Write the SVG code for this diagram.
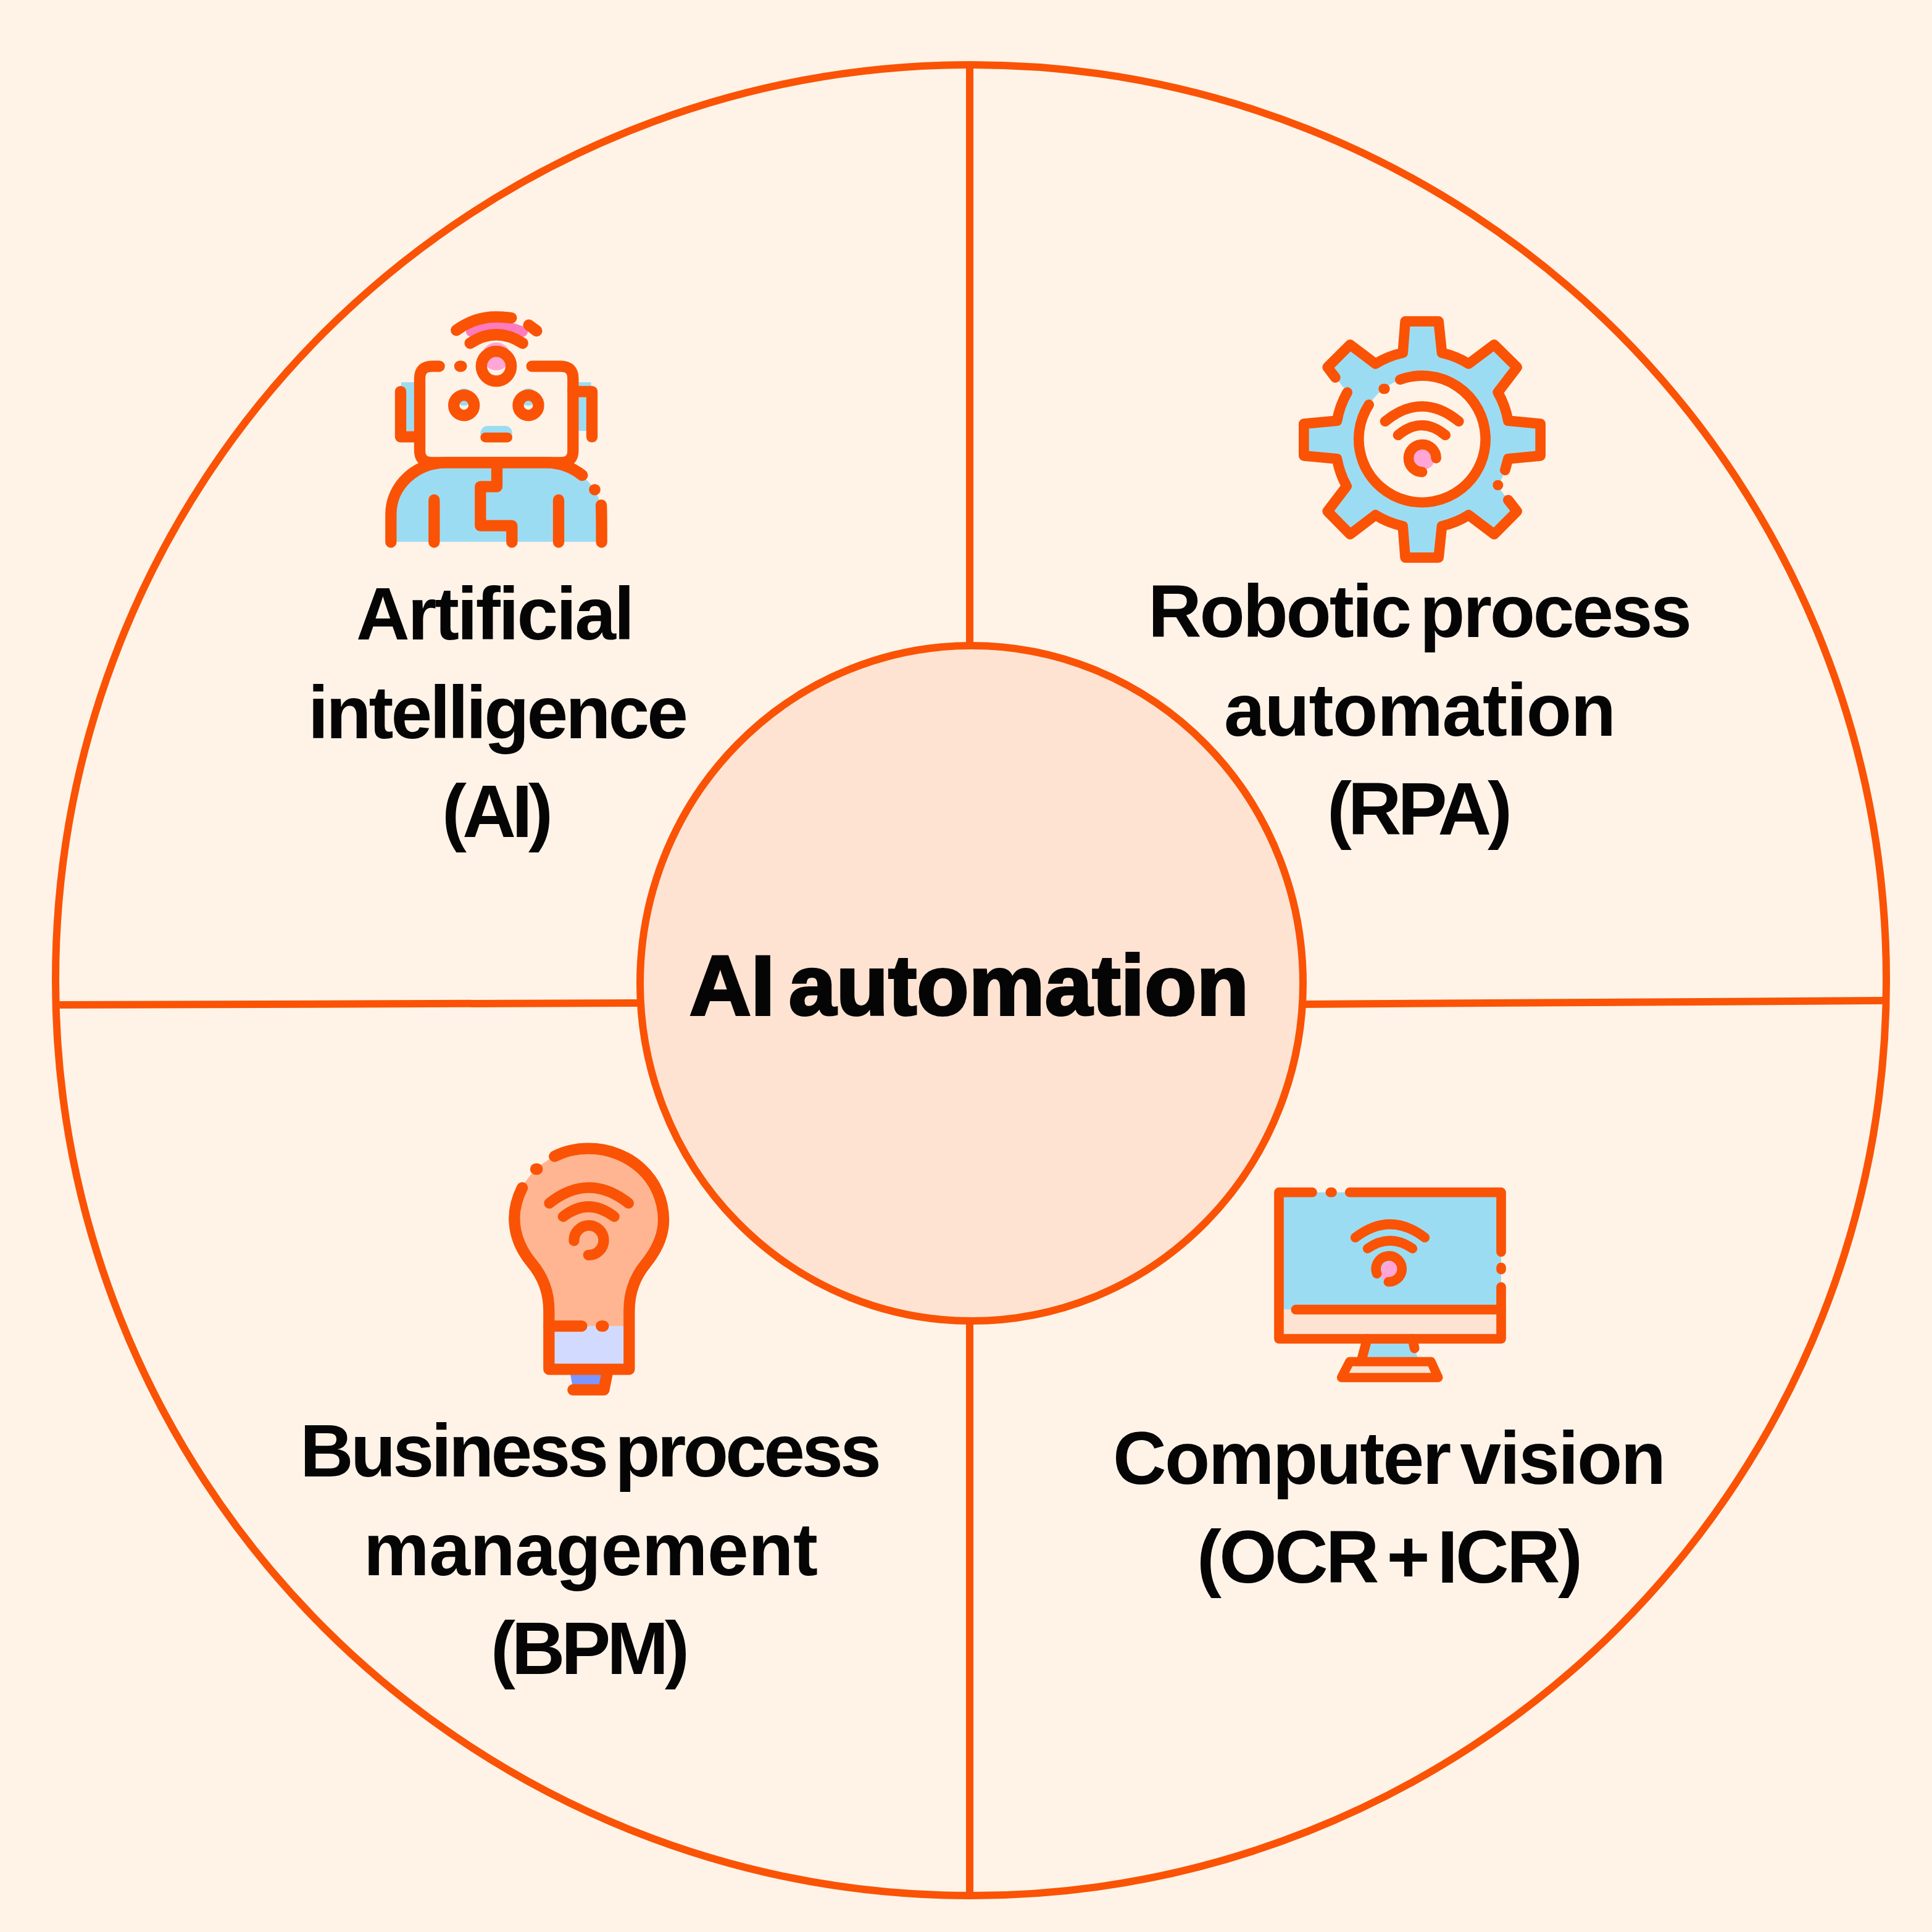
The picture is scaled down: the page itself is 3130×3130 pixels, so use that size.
<svg xmlns="http://www.w3.org/2000/svg" width="3130" height="3130" viewBox="0 0 3130 3130">
<style>
.ln{fill:none;stroke:#FA5305;stroke-width:12}
.s{fill:none;stroke:#FA5305;stroke-linecap:round;stroke-linejoin:round}
.t{font-family:"Liberation Sans",Arial,sans-serif;font-weight:700;font-size:120px;word-spacing:-14px;fill:#050505}
.c{font-size:138px;word-spacing:-16px;stroke:#050505;stroke-width:4px}
</style>
<rect width="3130" height="3130" fill="#FFF3E8"/>
<g id="connectors">
<line class="ln" x1="1571" y1="106" x2="1571" y2="1050"/>
<line class="ln" x1="1571" y1="2136" x2="1571" y2="3072"/>
<line class="ln" x1="90" y1="1628" x2="1040" y2="1625"/>
<line class="ln" x1="2108" y1="1627" x2="3056" y2="1621"/>
</g>
<g id="ring"><circle class="ln" cx="1573" cy="1588" r="1483"/></g>
<g id="center">
<ellipse cx="1574" cy="1593" rx="537" ry="547" fill="#FFE3D2" stroke="#FA5305" stroke-width="12"/>
<text class="t c" x="1117" y="1644" textLength="906">AI automation</text>
</g>
<g id="node-ai">
<g transform="translate(600 480) scale(.33333)">
<path fill="#9CDCF3" d="M150 418H215V655H150ZM1010 418H1073V655H1010ZM100 1193V1060C100 920 220 808 370 808H850C990 808 1124 920 1124 1060V1193Z"/>
<rect x="535" y="630" width="155" height="70" rx="35" fill="#9CDCF3"/>
<circle cx="455" cy="490" r="42" fill="#9CDCF3"/><circle cx="768" cy="490" r="42" fill="#9CDCF3"/>
<circle cx="612" cy="292" r="68" fill="#FFA6D7"/>
<path class="s" stroke-width="50" d="M490 172Q612 120 740 172" style="stroke:#FF7BBE"/>
<g class="s" stroke-width="55">
<path d="M335 340H300Q240 340 240 400V750Q240 808 300 808H925Q985 808 985 750V400Q985 340 925 340H785"/>
<path d="M435 340H442"/>
<path d="M147 463V683H240M985 463H1077V683"/>
<path d="M100 1195V1060C100 920 220 808 370 808H850C920 808 980 830 1030 870M1090 940H1091M1122 1015C1124 1040 1124 1060 1124 1195"/>
<path d="M310 990V1195M915 990V1195"/>
<path d="M615 808V925H535V1115H688V1195"/>
<path d="M418 165C480 120 550 100 610 100C640 100 665 103 685 105M485 228Q612 145 740 228M770 140L808 168"/>
<path d="M559 686H666" stroke-width="48"/>
<circle cx="612" cy="340" r="72.5"/>
<circle cx="455" cy="530" r="49.5"/><circle cx="768" cy="530" r="49.5"/>
</g>
</g>
<text class="t" x="577" y="1036" textLength="451">Artificial</text>
<text class="t" x="499" y="1196" textLength="616">intelligence</text>
<text class="t" x="716" y="1356" textLength="180">(AI)</text>
</g>
<g id="node-rpa">
<g transform="translate(2080 490) scale(.33333)">
<path fill="#9CDCF3" d="M212 315L322 205L445 298A431 431 0 0 1 578 245L590 92L752 92L768 245A431 431 0 0 1 898 298L1022 205L1133 315L1040 437A431 431 0 0 1 1090 575L1247 590L1247 745L1090 760A431 431 0 0 1 1040 893L1133 1015L1022 1127L898 1033A431 431 0 0 1 768 1087L752 1240L590 1240L578 1087A431 431 0 0 1 445 1033L322 1127L212 1015L305 893A431 431 0 0 1 258 760L97 745L97 590L258 575A431 431 0 0 1 308 437Z"/>
<circle cx="672" cy="665" r="308" fill="#FFF3E8"/>
<circle cx="680" cy="760" r="52" fill="#FFA6D7"/>
<g class="s" stroke-width="50">
<path d="M250 365L212 315L322 205L445 298A431 431 0 0 1 578 245L590 92L752 92L768 245A431 431 0 0 1 898 298L1022 205L1133 315L1040 437A431 431 0 0 1 1090 575L1247 590L1247 745L1090 760L1075 815"/>
<path d="M1090 960L1133 1015L1022 1127L898 1033A431 431 0 0 1 768 1087L752 1240L590 1240L578 1087A431 431 0 0 1 445 1033L322 1127L212 1015L305 893A431 431 0 0 1 258 760L97 745L97 590L258 575A431 431 0 0 1 308 437"/>
<path d="M1040 888H1041M565 375A308 308 0 1 1 413 497M485 420H490"/>
<path d="M492 578Q672 432 850 578M555 645Q670 549 785 645M740 757A67 67 0 1 0 672 824"/>
</g>
</g>
<text class="t" x="1860" y="1032" textLength="881">Robotic process</text>
<text class="t" x="1983" y="1192" textLength="635">automation</text>
<text class="t" x="2150" y="1352" textLength="300">(RPA)</text>
</g>
<g id="node-bpm">
<g transform="translate(790 1830) scale(.33333)">
<path fill="#FFB591" d="M130 430C130 240 300 92 490 92C690 92 855 240 855 440C855 530 810 600 770 650C720 710 688 790 688 880V960H298V880C298 790 265 710 215 650C165 590 130 520 130 430Z"/>
<rect x="298" y="955" width="390" height="205" fill="#D2DBFF"/>
<path fill="#7D96FF" d="M400 1180H560L550 1245H412Z"/>
<g class="s" stroke-width="55">
<path d="M325 130C375 105 430 92 490 92C690 92 855 240 855 440C855 530 810 600 770 650C720 710 688 790 688 880V1165H298V880C298 790 265 710 215 650C165 590 130 520 130 430C130 380 145 330 168 283"/>
<path d="M234 192H241"/>
<path d="M298 955H457M553 955H562"/>
<path d="M580 1190L565 1265H415"/>
<path d="M300 358Q492 206 685 358M367 423Q490 327 615 423M420 540A72 72 0 1 1 490 610" stroke-width="52"/>
</g>
</g>
<text class="t" x="486" y="2392" textLength="942">Business process</text>
<text class="t" x="589" y="2552" textLength="736">management</text>
<text class="t" x="795" y="2712" textLength="322">(BPM)</text>
</g>
<g id="node-cv">
<g transform="translate(2040 1900) scale(.33333)">
<rect x="96" y="95" width="1080" height="570" fill="#9CDCF3"/>
<rect x="96" y="665" width="1080" height="142" fill="#FFE3D2"/>
<path fill="#9CDCF3" d="M525 807H735L772 900H500Z"/>
<path fill="#FFE3D2" d="M440 918H835L870 995H400Z"/>
<path fill="#FFA6D7" d="M636 430A42 42 0 0 1 650 512L605 522L590 505L596 485A42 42 0 0 1 636 430Z"/>
<g class="s" stroke-width="47">
<path d="M258 95H96V807H1176V555M1176 385V95H440"/>
<path d="M346 95H354M1176 460V470"/>
<path d="M178 665H1176"/>
<path d="M525 807L500 900M745 807L755 853"/>
<path stroke-width="45" d="M440 918H835L870 995H400Z"/>
<path d="M467 315Q636 185 805 315M527 368Q636 292 745 368M572 490A63 63 0 1 1 628 530"/>
</g>
</g>
<text class="t" x="1803" y="2404" textLength="896">Computer vision</text>
<text class="t" x="1939" y="2564" textLength="625">(OCR + ICR)</text>
</g>
</svg>
